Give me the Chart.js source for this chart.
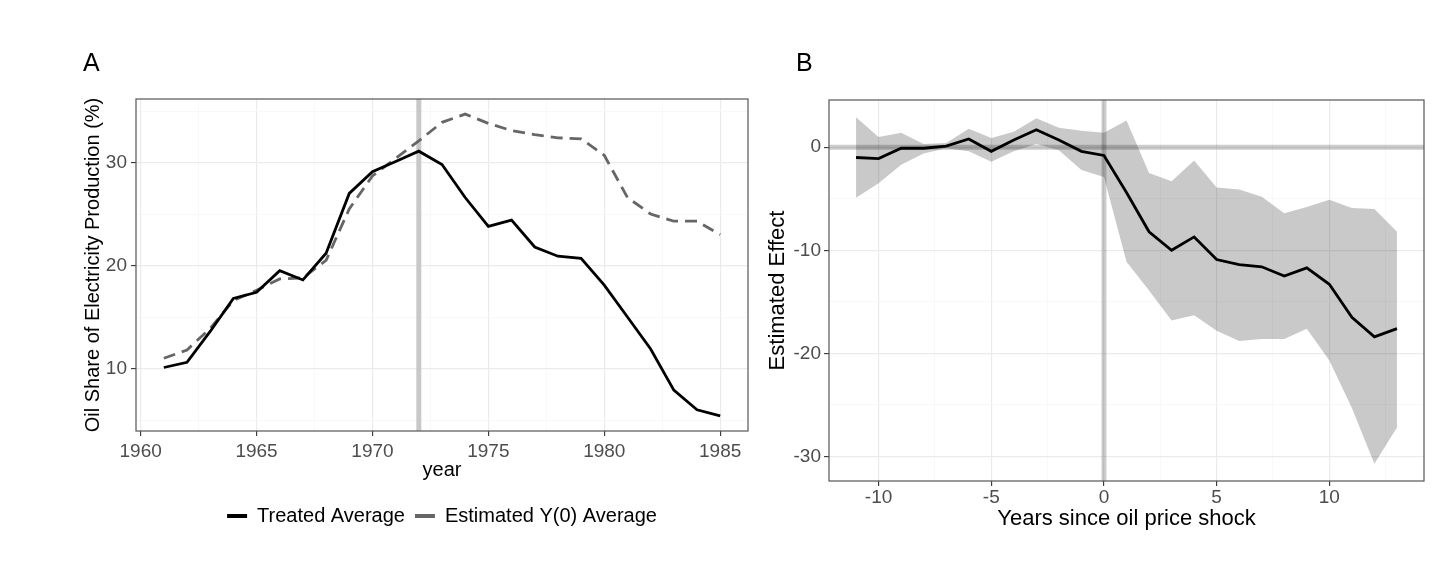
<!DOCTYPE html>
<html>
<head>
<meta charset="utf-8">
<script src="https://cdn.jsdelivr.net/npm/chart.js@4.4.1/dist/chart.umd.min.js"></script>
<style>
body { margin: 0; background: #fff; }
#wrap { position: relative; width: 1456px; height: 566px; font-family: "Liberation Sans", Arial, sans-serif; }
#chartA { position: absolute; left: 0; top: 0; }
#chartB { position: absolute; left: 760px; top: 0; }
.tag { position: absolute; font-size: 25px; line-height: 1; color: #000; }
</style>
</head>
<body>
<div id="wrap">
  <canvas id="chartA" width="760" height="566"></canvas>
  <canvas id="chartB" width="696" height="566"></canvas>
  <div class="tag" style="left:83px; top:50px;">A</div>
  <div class="tag" style="left:796px; top:50px;">B</div>
</div>
<script>
// Panel A: oil share of electricity production
var years = [1961, 1962, 1963, 1964, 1965, 1966, 1967, 1968, 1969, 1970, 1971, 1972, 1973,
             1974, 1975, 1976, 1977, 1978, 1979, 1980, 1981, 1982, 1983, 1984, 1985];
var treatedAvg = [10.1, 10.6, 13.6, 16.8, 17.4, 19.5, 18.6, 21.2, 27.0, 29.1, 30.1, 31.1, 29.8,
                  26.6, 23.8, 24.4, 21.8, 20.9, 20.7, 18.1, 15.0, 11.9, 7.9, 6.0, 5.4];
var estimatedY0 = [11.0, 11.8, 13.9, 16.6, 17.6, 18.7, 18.8, 20.5, 25.5, 28.7, 30.4, 32.1, 33.9,
                   34.7, 33.8, 33.1, 32.7, 32.4, 32.3, 30.7, 26.6, 25.0, 24.3, 24.3, 23.0];
var shockYear = 1972;
var yearTicks = [1960, 1965, 1970, 1975, 1980, 1985];
var yearMinor = [1962.5, 1967.5, 1972.5, 1977.5, 1982.5];
var shareTicks = [10, 20, 30];
var shareMinor = [5, 15, 25, 35];

// Panel B: event-study estimates
var yearsSince = [-11, -10, -9, -8, -7, -6, -5, -4, -3, -2, -1, 0, 1,
                  2, 3, 4, 5, 6, 7, 8, 9, 10, 11, 12, 13];
var effect = [-1.0, -1.1, -0.1, -0.1, 0.1, 0.8, -0.4, 0.7, 1.7, 0.7, -0.4, -0.8, -4.4,
              -8.2, -10.0, -8.7, -10.9, -11.4, -11.6, -12.5, -11.7, -13.3, -16.5, -18.4, -17.6];
var upperCI = [2.9, 1.0, 1.4, 0.3, 0.4, 1.8, 0.9, 1.5, 2.8, 1.9, 1.6, 1.4, 2.6,
               -2.5, -3.3, -1.3, -3.9, -4.1, -4.8, -6.4, -5.8, -5.1, -5.9, -6.0, -8.2];
var lowerCI = [-4.9, -3.5, -1.7, -0.6, -0.1, -0.4, -1.4, -0.4, 0.3, -0.3, -2.2, -2.9, -11.1,
               -13.9, -16.8, -16.3, -17.8, -18.8, -18.6, -18.6, -17.6, -20.7, -25.3, -30.7, -27.2];
var sinceTicks = [-10, -5, 0, 5, 10];
var sinceMinor = [-7.5, -2.5, 2.5, 7.5, 12.5];
var effectTicks = [-30, -20, -10, 0];
var effectMinor = [-25, -15, -5];

var FONT = '"Liberation Sans", Arial, sans-serif';

function expand(vals) {
    var lo = Math.min.apply(null, vals), hi = Math.max.apply(null, vals);
    var pad = (hi - lo) * 0.05;
    return [lo - pad, hi + pad];
}

function points(xs, ys) {
    return xs.map(function(x, i) { return {x: x, y: ys[i]}; });
}

// ggplot-like axis: major + minor grid, ticks only on majors, fixed box size
function axis(o) {
    function isMajor(c) { return c.tick && o.major.indexOf(c.tick.value) >= 0; }
    return {
        type: 'linear',
        min: o.range[0],
        max: o.range[1],
        afterBuildTicks: function(scale) {
            scale.ticks = o.major.concat(o.minor).sort(function(a, b) { return a - b; })
                .map(function(v) { return {value: v}; });
        },
        afterFit: function(scale) {
            if (scale.isHorizontal()) scale.height = o.size;
            else scale.width = o.size;
        },
        border: { display: false },
        grid: {
            color: function(c) { return isMajor(c) ? '#ebebeb' : '#f5f5f5'; },
            lineWidth: function(c) { return isMajor(c) ? 1.2 : 0.7; },
            tickColor: function(c) { return isMajor(c) ? '#333333' : 'rgba(0,0,0,0)'; },
            tickLength: 5,
            tickWidth: 1.1
        },
        ticks: {
            autoSkip: false,
            maxRotation: 0,
            padding: o.tickPad,
            color: '#4d4d4d',
            font: { family: FONT, size: 19 },
            callback: function(v) { return o.major.indexOf(v) >= 0 ? String(v) : ''; }
        },
        title: {
            display: true,
            text: o.title,
            color: '#000',
            font: { family: FONT, size: o.titleSize },
            padding: o.titlePad
        }
    };
}

var refLines = {
    id: 'refLines',
    beforeDatasetsDraw: function(chart, args, opts) {
        var ctx = chart.ctx, area = chart.chartArea;
        ctx.save();
        ctx.strokeStyle = opts.color;
        ctx.lineWidth = opts.width;
        (opts.x || []).forEach(function(v) {
            var px = chart.scales.x.getPixelForValue(v);
            ctx.beginPath(); ctx.moveTo(px, area.top); ctx.lineTo(px, area.bottom); ctx.stroke();
        });
        (opts.y || []).forEach(function(v) {
            var py = chart.scales.y.getPixelForValue(v);
            ctx.beginPath(); ctx.moveTo(area.left, py); ctx.lineTo(area.right, py); ctx.stroke();
        });
        ctx.restore();
    }
};

var panelBorder = {
    id: 'panelBorder',
    afterDatasetsDraw: function(chart) {
        var ctx = chart.ctx, a = chart.chartArea;
        ctx.save();
        ctx.strokeStyle = '#555555';
        ctx.lineWidth = 1.2;
        ctx.strokeRect(a.left, a.top, a.right - a.left, a.bottom - a.top);
        ctx.restore();
    }
};

new Chart(document.getElementById('chartA').getContext('2d'), {
    type: 'line',
    data: {
        datasets: [{
            label: 'Treated Average',
            data: points(years, treatedAvg),
            borderColor: '#000000',
            backgroundColor: '#000000',
            borderWidth: 2.8,
            pointRadius: 0,
            tension: 0
        }, {
            label: 'Estimated Y(0) Average',
            data: points(years, estimatedY0),
            borderColor: '#666666',
            backgroundColor: '#666666',
            borderWidth: 2.8,
            borderDash: [12, 7],
            pointRadius: 0,
            tension: 0
        }]
    },
    options: {
        responsive: false,
        animation: false,
        layout: { padding: { top: 99, right: 12, left: 0, bottom: 30 } },
        scales: {
            x: axis({ range: expand(years), major: yearTicks, minor: yearMinor, size: 65,
                      tickPad: 4, title: 'year', titleSize: 20, titlePad: { top: 0, bottom: 14 } }),
            y: axis({ range: expand(treatedAvg.concat(estimatedY0)), major: shareTicks, minor: shareMinor,
                      size: 136, tickPad: 4, title: 'Oil Share of Electricity Production (%)',
                      titleSize: 20, titlePad: { top: 81, bottom: 0 } })
        },
        plugins: {
            legend: {
                position: 'bottom',
                fullSize: false,
                labels: {
                    boxWidth: 20,
                    boxHeight: 4,
                    padding: 10,
                    color: '#000',
                    font: { family: FONT, size: 20 },
                    generateLabels: function(chart) {
                        return chart.data.datasets.map(function(ds, i) {
                            return { text: ds.label, fillStyle: ds.borderColor, strokeStyle: ds.borderColor,
                                     lineWidth: 0, hidden: false, datasetIndex: i, fontColor: '#000' };
                        });
                    }
                }
            },
            tooltip: { enabled: false },
            refLines: { x: [shockYear], color: '#c8c8c8', width: 5 }
        }
    },
    plugins: [refLines, panelBorder]
});

new Chart(document.getElementById('chartB').getContext('2d'), {
    type: 'line',
    data: {
        datasets: [{
            label: 'Estimated Effect',
            data: points(yearsSince, effect),
            borderColor: '#000000',
            borderWidth: 2.8,
            pointRadius: 0,
            tension: 0
        }, {
            label: 'Upper',
            data: points(yearsSince, upperCI),
            borderColor: 'rgba(0,0,0,0)',
            borderWidth: 0,
            backgroundColor: 'rgba(0,0,0,0.21)',
            fill: '+1',
            pointRadius: 0,
            tension: 0
        }, {
            label: 'Lower',
            data: points(yearsSince, lowerCI),
            borderColor: 'rgba(0,0,0,0)',
            borderWidth: 0,
            fill: false,
            pointRadius: 0,
            tension: 0
        }]
    },
    options: {
        responsive: false,
        animation: false,
        layout: { padding: { top: 100, right: 32, left: 0, bottom: 34 } },
        scales: {
            x: axis({ range: expand(yearsSince), major: sinceTicks, minor: sinceMinor, size: 51,
                      tickPad: 0, title: 'Years since oil price shock', titleSize: 22,
                      titlePad: { top: 0, bottom: 0 } }),
            y: axis({ range: expand(upperCI.concat(lowerCI)), major: effectTicks, minor: effectMinor,
                      size: 69, tickPad: 3, title: 'Estimated Effect', titleSize: 22,
                      titlePad: { top: 5, bottom: 0 } })
        },
        plugins: {
            legend: { display: false },
            tooltip: { enabled: false },
            refLines: { x: [0], y: [0], color: 'rgba(0,0,0,0.2)', width: 5 }
        }
    },
    plugins: [refLines, panelBorder]
});
</script>
</body>
</html>
